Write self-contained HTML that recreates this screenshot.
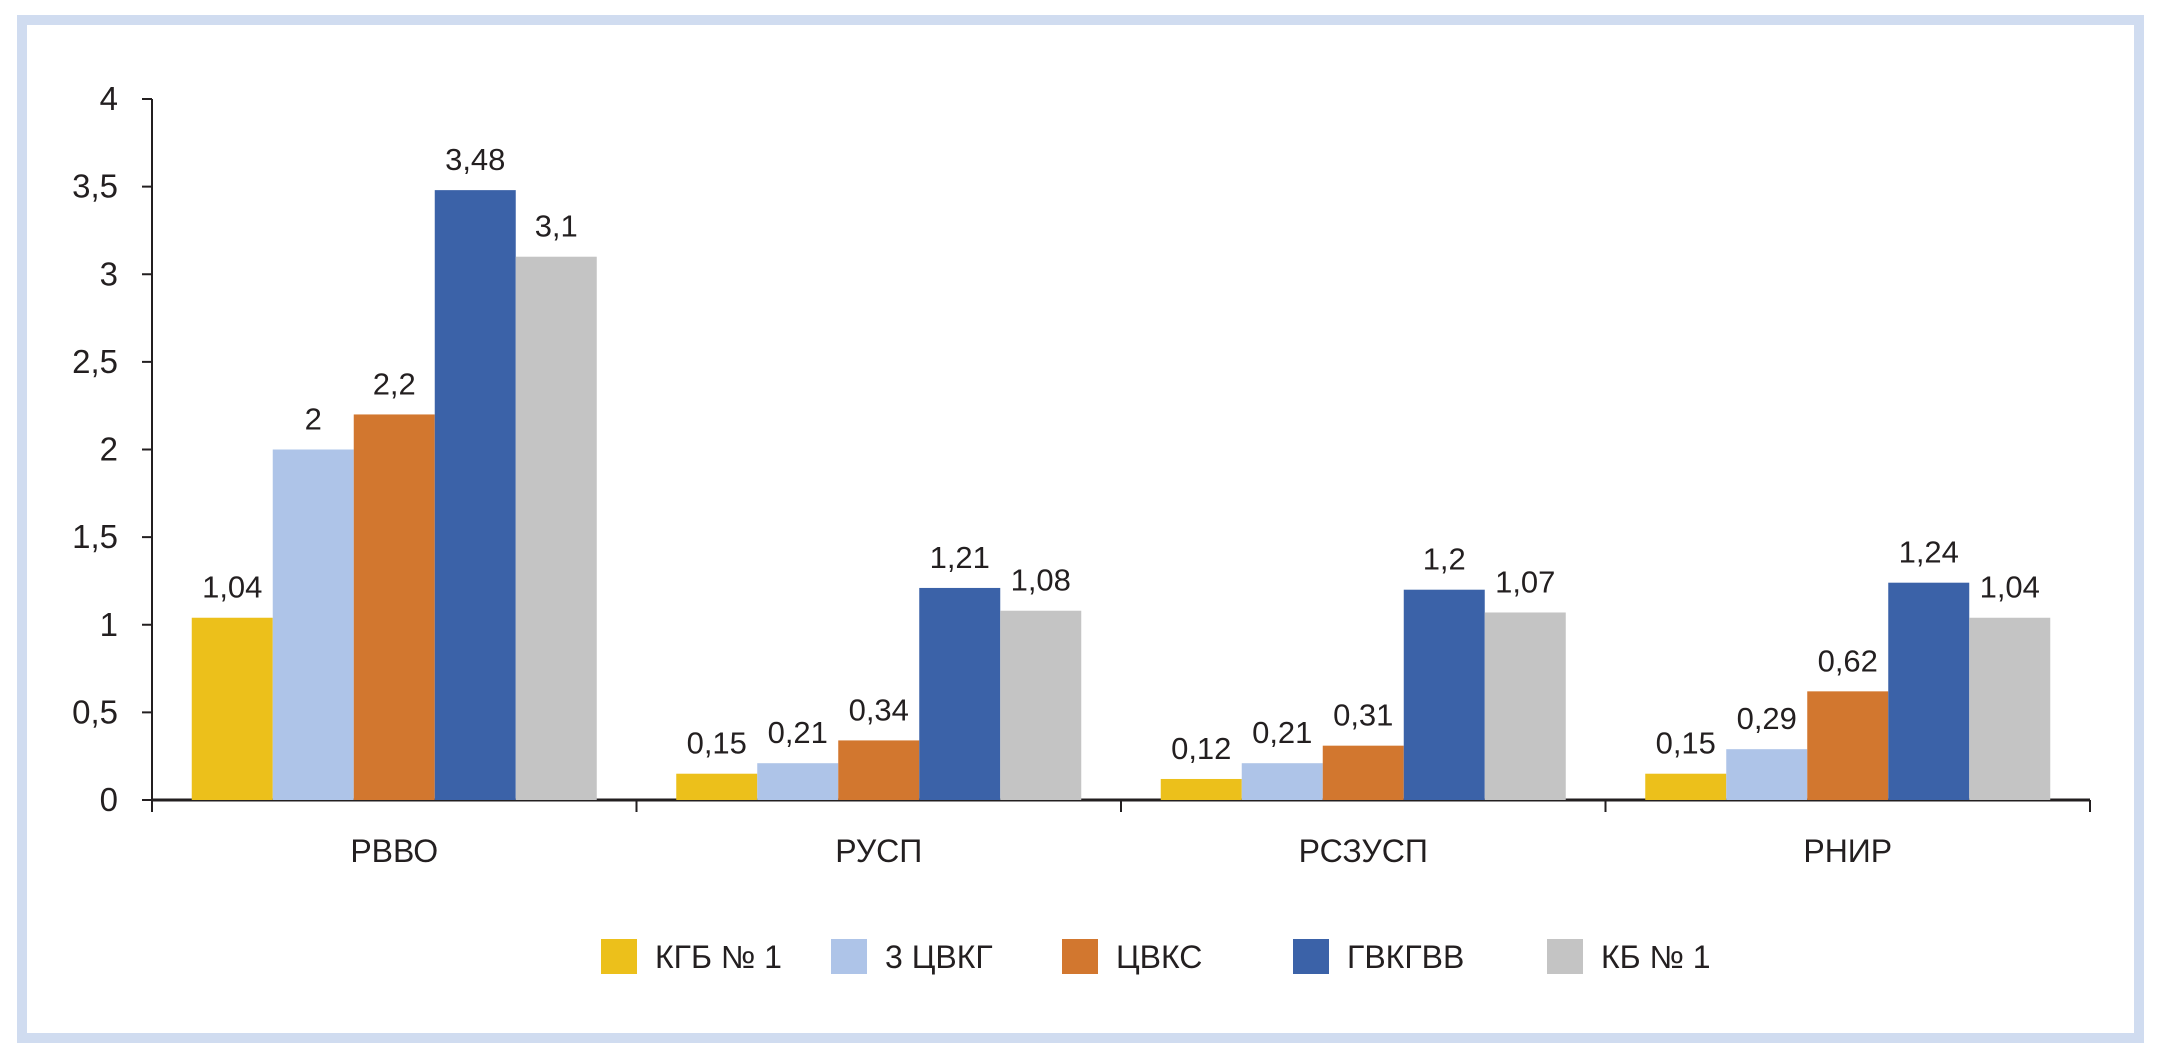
<!DOCTYPE html>
<html><head><meta charset="utf-8"><style>
html,body{margin:0;padding:0;background:#fff;width:2158px;height:1056px;overflow:hidden}
svg text{font-family:"Liberation Sans Narrow","Liberation Sans","DejaVu Sans",sans-serif;fill:#231f20}
</style></head><body>
<svg id="chart" width="2158" height="1056" xmlns="http://www.w3.org/2000/svg">
<rect x="22" y="20" width="2117" height="1018" fill="none" stroke="#d0dcf0" stroke-width="10"/>
<g id="axes"></g><g id="bars"></g><g id="labels"></g><g id="legend"></g>
</svg>
<script>
const categories = ["РВВО","РУСП","РСЗУСП","РНИР"];
const seriesNames = ["КГБ № 1","3 ЦВКГ","ЦВКС","ГВКГВВ","КБ № 1"];
const s1 = [1.04,0.15,0.12,0.15];
const s2 = [2,0.21,0.21,0.29];
const s3 = [2.2,0.34,0.31,0.62];
const s4 = [3.48,1.21,1.2,1.24];
const s5 = [3.1,1.08,1.07,1.04];
const labels1 = ["1,04","0,15","0,12","0,15"];
const labels2 = ["2","0,21","0,21","0,29"];
const labels3 = ["2,2","0,34","0,31","0,62"];
const labels4 = ["3,48","1,21","1,2","1,24"];
const labels5 = ["3,1","1,08","1,07","1,04"];
const yTicks = [0,0.5,1,1.5,2,2.5,3,3.5,4];
const yTickLabels = ["0","0,5","1","1,5","2","2,5","3","3,5","4"];

const series=[s1,s2,s3,s4,s5];
const seriesLabels=[labels1,labels2,labels3,labels4,labels5];
const colors=["#ecc01b","#aec4e8","#d2772f","#3b62a8","#c4c4c4"];
const NS="http://www.w3.org/2000/svg";
const x0=152,x1=2090,yTop=99,yBot=800,yMax=4;
const y=v=>yBot-(v/yMax)*(yBot-yTop);
const catW=(x1-x0)/categories.length;
const barW=81, groupPad=(catW-barW*series.length)/2;
function mk(tag,attrs,parent){const e=document.createElementNS(NS,tag);for(const k in attrs)e.setAttribute(k,attrs[k]);parent.appendChild(e);return e;}
const axes=document.getElementById('axes'),bars=document.getElementById('bars'),lab=document.getElementById('labels'),leg=document.getElementById('legend');

let yl=mk('line',{x1:x0,y1:yTop,x2:x0,y2:yBot,stroke:'#231f20','stroke-width':2},axes);


yTicks.forEach((t,i)=>{
  let tk=mk('line',{x1:x0-10,y1:y(t),x2:x0,y2:y(t),stroke:'#231f20','stroke-width':2},axes);
  
  
  let tx=mk('text',{x:x0-34,y:y(t)+11,'text-anchor':'end','font-size':33},axes);
  tx.textContent=yTickLabels[i];
  
  
});
let xl=mk('line',{x1:x0,y1:yBot,x2:x1,y2:yBot,stroke:'#231f20','stroke-width':3},axes);


for(let i=0;i<=categories.length;i++){
  let d=mk('line',{x1:x0+i*catW,y1:yBot,x2:x0+i*catW,y2:yBot+12,stroke:'#231f20','stroke-width':2},axes);
  
  
}
categories.forEach((c,ci)=>{
  let tx=mk('text',{x:x0+ci*catW+catW/2,y:862,'text-anchor':'middle','font-size':32},axes);
  tx.textContent=c;
  
  
  series.forEach((s,si)=>{
    const bx=x0+ci*catW+groupPad+si*barW;
    let r=mk('rect',{x:bx,y:y(s[ci]),width:barW,height:yBot-y(s[ci]),fill:colors[si]},bars);
    
    
    let t=mk('text',{x:bx+barW/2,y:y(s[ci])-20,'text-anchor':'middle','font-size':31},lab);
    t.textContent=seriesLabels[si][ci];
    
    
  });
});
const legX=[601,831,1062,1293,1547];
seriesNames.forEach((n,i)=>{
  let r=mk('rect',{x:legX[i],y:939,width:36,height:35,fill:colors[i]},leg);
  
  
  let t=mk('text',{x:legX[i]+54,y:968,'font-size':32},leg);
  t.textContent=n;
  
  
});
</script>
</body></html>
